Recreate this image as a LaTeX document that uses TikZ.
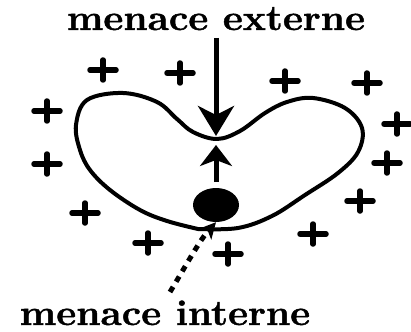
\documentclass[tikz,border=0pt]{standalone}
\usepackage{fontspec}
\newfontfamily\heavyfont[FakeBold=1.2]{Latin Modern Roman}
\usetikzlibrary{arrows.meta,shapes.geometric}
\begin{document}
\begin{tikzpicture}[x=1pt,y=-1pt,
  label text/.style={font=\fontsize{36}{40}\selectfont\heavyfont\bfseries, inner sep=0pt, anchor=base, xscale=1.08},
  outline/.style={line width=4pt, line join=round},
  bigarrow/.style={line width=5pt, -{Stealth[length=30pt, width=36pt, inset=9pt]}},
  smallarrow/.style={line width=5pt, -{Stealth[length=21pt, width=32pt, inset=6pt]}},
  dotarrow/.style={line width=5pt, dash pattern=on 6pt off 6pt, -{Stealth[length=16pt, width=16pt, inset=4pt]}},
  plussign/.pic={\draw[line width=5.5pt, line cap=round] (-13,0) -- (13,0) (0,-10) -- (0,10);}
]
\useasboundingbox (0,0) rectangle (411,331);

% texts
\node[label text] (ext) at (216,30) {menace externe};
\node[label text] (int) at (165,325) {menace interne};

% bean outline
\draw[outline] plot[smooth, tension=0.6] coordinates {
  (198,229) (167,221) (140,210) (110,190) (90,170) (80,150) (76,125)
  (87,100) (123,93) (157,102) (177,119) (193,132) (217,139) (240,131)
  (265,113) (287,102) (313,98) (345,108) (362,128) (358,152) (338,173)
  (305,195) (272,216) (238,228) (198,229)};

% arrows
\coordinate (dtop) at (216,38);
\coordinate (dtip) at (216,136);
\draw[bigarrow] (dtop) -- (dtip);
\coordinate (ubase) at (216,182);
\coordinate (utip) at (216,145);
\draw[smallarrow] (ubase) -- (utip);

% internal ball
\node[ellipse, fill=black, minimum width=46pt, minimum height=34pt, inner sep=0pt] (ball) at (216,205) {};
\coordinate (dstart) at (170,292);
\draw[dotarrow] (dstart) .. controls (188,262) and (200,240) .. (ball.south);

% plus signs
\foreach \px/\py in {103/70, 180/73, 285/81, 367/83, 47/111, 47/164, 85/213, 148/243,
  397/124, 387/163, 360/201, 313/234, 228/254}
  \pic at (\px,\py) {plussign};
\end{tikzpicture}
\end{document}
